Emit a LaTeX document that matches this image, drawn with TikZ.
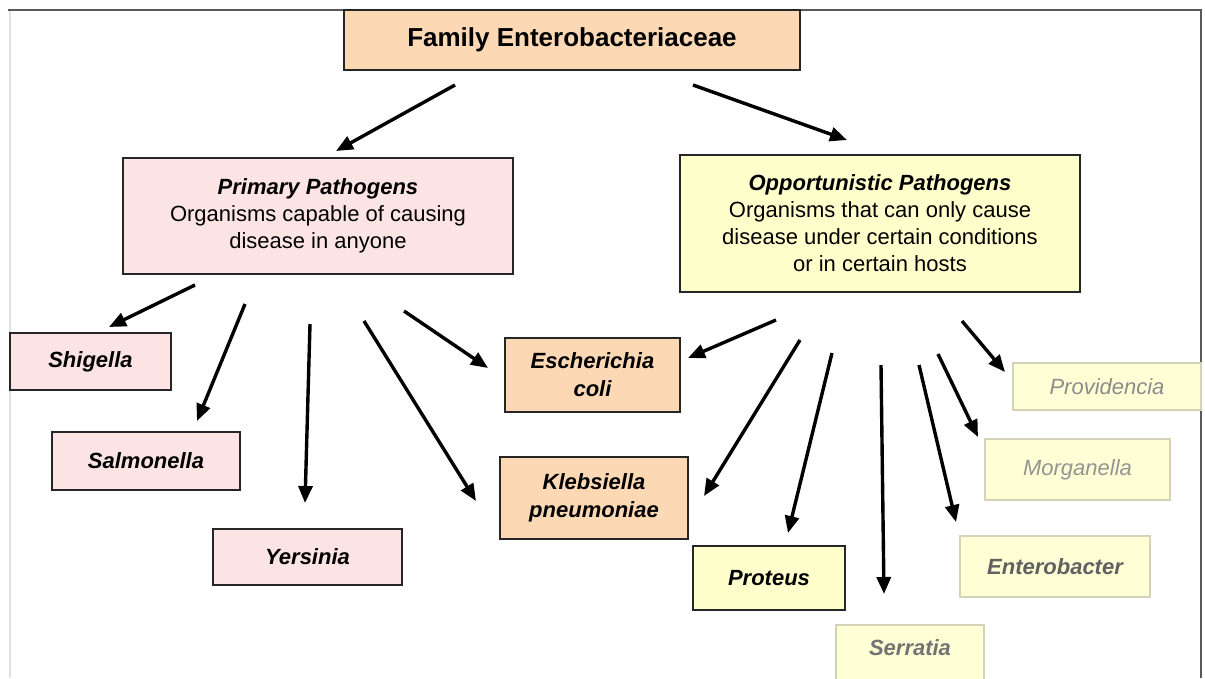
\documentclass[tikz,border=0pt]{standalone}
\usepackage{fontspec}
\setmainfont{Liberation Sans}
\usetikzlibrary{arrows.meta}
\definecolor{peach}{RGB}{252,217,180}
\definecolor{pinkf}{RGB}{252,228,228}
\definecolor{yel}{RGB}{255,255,204}
\definecolor{faintfill}{RGB}{255,255,214}
\definecolor{faintdraw}{RGB}{214,210,186}
\tikzset{
  box/.style={draw=black!85, line width=1.8pt, inner sep=0pt, align=center,
    font=\fontsize{22}{27}\selectfont},
  leaf/.style={box, font=\fontsize{22}{28}\selectfont\bfseries\itshape},
  fbox/.style={draw=faintdraw, line width=1.6pt, fill=faintfill, inner sep=0pt,
    align=center, font=\fontsize{22}{27}\selectfont\itshape},
  arr/.style={line width=3.4pt, -{Triangle[length=17pt,width=14pt]}},
}
\begin{document}
\begin{tikzpicture}[x=1pt,y=-1pt]
\useasboundingbox (0,0) rectangle (1205,678);
\fill[white] (0,0) rectangle (1205,678);
% frame
\draw[black!12, line width=2pt] (10,10) -- (10,678);
\draw[black!65, line width=2.2pt] (8,10) -- (1201,10) -- (1201,678);

% boxes
\node[box, fill=peach, minimum width=456pt, minimum height=60pt,
  font=\fontsize{26}{30}\selectfont\bfseries] (top) at (572,40) {Family Enterobacteriaceae};
\node[box, fill=pinkf, minimum width=390pt, minimum height=116pt] (prim) at (318,216)
  {\textbf{\textit{Primary Pathogens}}\\Organisms capable of causing\\disease in anyone};
\node[box, fill=yel, minimum width=400pt, minimum height=137pt] (opp) at (880,223.5)
  {\textbf{\textit{Opportunistic Pathogens}}\\Organisms that can only cause\\disease under certain conditions\\or in certain hosts};

\node[leaf, fill=pinkf, minimum width=161pt, minimum height=57pt] (shig) at (90.5,361.5) {Shigella};
\node[leaf, fill=pinkf, minimum width=188pt, minimum height=58pt] (salm) at (146,461) {Salmonella};
\node[leaf, fill=pinkf, minimum width=189pt, minimum height=56pt] (yers) at (307.5,557) {Yersinia};
\node[leaf, fill=peach, minimum width=175pt, minimum height=74pt] (ecoli) at (592.5,375) {Escherichia\\coli};
\node[leaf, fill=peach, minimum width=188pt, minimum height=82pt] (kleb) at (594,498) {Klebsiella\\pneumoniae};
\node[leaf, fill=yel, minimum width=152pt, minimum height=64pt] (prot) at (769,578) {Proteus};

\node[fbox, text=black!55, font=\fontsize{22}{27}\selectfont\bfseries\itshape,
  minimum width=148pt, minimum height=66pt, text height=16pt, text depth=22pt] (serr) at (910,658) {Serratia};
\node[fbox, text=black!62, font=\fontsize{22}{27}\selectfont\bfseries\itshape,
  minimum width=190pt, minimum height=61pt] (entb) at (1055,566.5) {Enterobacter};
\node[fbox, text=black!42, minimum width=185pt, minimum height=61pt] (morg) at (1077.5,469.5) {Morganella};
\node[fbox, text=black!45, minimum width=188pt, minimum height=47pt] (prov) at (1107,386.5) {Providencia};

% arrow end points
\coordinate (t1) at (455,85);   \coordinate (h1) at (336,151);
\coordinate (t2) at (693,85);   \coordinate (h2) at (847,140);
\coordinate (p1) at (195,285);  \coordinate (q1) at (109,327);
\coordinate (p2) at (245,304);  \coordinate (q2) at (197,421);
\coordinate (p3) at (310,324);  \coordinate (q3) at (305,503);
\coordinate (p4) at (364,321);  \coordinate (q4) at (476,501);
\coordinate (p5) at (404,311);  \coordinate (q5) at (488,368);
\coordinate (o1) at (776,320);  \coordinate (r1) at (688,358);
\coordinate (o2) at (800,340);  \coordinate (r2) at (704,496);
\coordinate (o3) at (832,353);  \coordinate (r3) at (788,533);
\coordinate (o4) at (881,365);  \coordinate (r4) at (884,594);
\coordinate (o5) at (919,365);  \coordinate (r5) at (956,522);
\coordinate (o6) at (938,354);  \coordinate (r6) at (978,437);
\coordinate (o7) at (962,321);  \coordinate (r7) at (1005,372);

\draw[arr] (t1) -- (h1);
\draw[arr] (t2) -- (h2);
\draw[arr] (p1) -- (q1);
\draw[arr] (p2) -- (q2);
\draw[arr] (p3) -- (q3);
\draw[arr] (p4) -- (q4);
\draw[arr] (p5) -- (q5);
\draw[arr] (o1) -- (r1);
\draw[arr] (o2) -- (r2);
\draw[arr] (o3) -- (r3);
\draw[arr] (o4) -- (r4);
\draw[arr] (o5) -- (r5);
\draw[arr] (o6) -- (r6);
\draw[arr] (o7) -- (r7);
\end{tikzpicture}
\end{document}
